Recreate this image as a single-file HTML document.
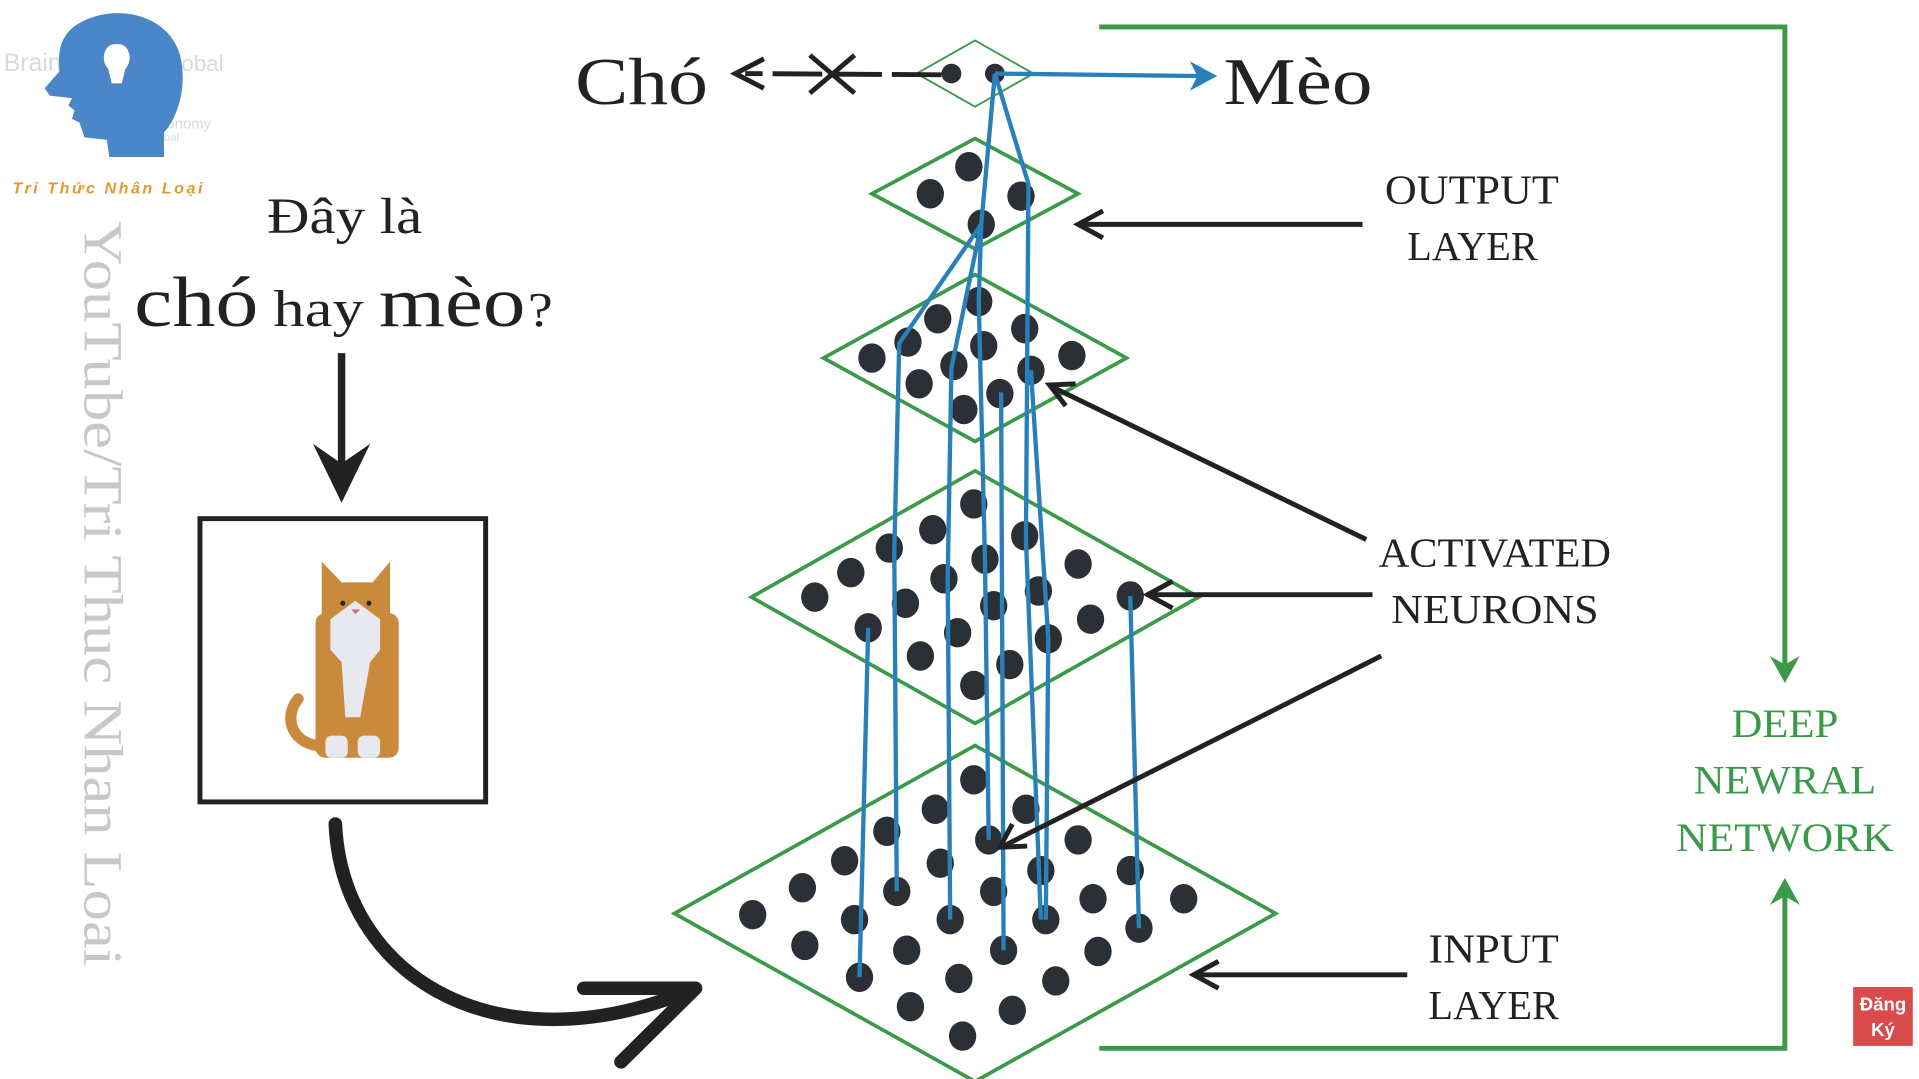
<!DOCTYPE html>
<html><head><meta charset="utf-8"><style>
html,body{margin:0;padding:0;background:#fff;overflow:hidden}
svg{display:block}
.serif{font-family:"Liberation Serif","DejaVu Serif",serif}
</style></head><body>
<svg width="1919" height="1079" viewBox="0 0 1545 880" preserveAspectRatio="none">
<rect width="1545" height="880" fill="#fff"/>
<g>
 <g fill="#d6dbe3" font-family="Liberation Sans,sans-serif">
  <text x="3" y="58" font-size="20">Brain</text>
  <text x="128" y="58" font-size="18">Global</text>
  <text x="120" y="105" font-size="12">Economy</text>
  <text x="118" y="115" font-size="9">Global</text>
 </g>
 <path d="M62 20 C90 2 135 10 145 45 C152 75 140 100 132 108 L132 128 L88 128 L86 114 L68 112 L64 100 L58 97 L60 90 L55 86 L58 80 L40 78 L36 72 L48 58 C46 40 50 28 62 20Z" fill="#4a86c8"/>
 <path d="M93 36 C83 36 81 50 87 56 L90 68 L98 68 L101 56 C107 50 105 36 95 36Z" fill="#fff"/>
 <text x="10" y="158" font-family="Liberation Sans,sans-serif" font-size="13" font-style="italic" font-weight="bold" fill="#e59a2b" textLength="153">Tri Thức Nhân Loại</text>
</g>
<text class="serif" x="0" y="0" font-size="44" fill="#c8c8c8" textLength="608" lengthAdjust="spacingAndGlyphs" transform="translate(68,180) rotate(90)">YouTube/Tri Thuc Nhan Loai</text>
<text class="serif" x="215" y="190" font-size="41" fill="#222" textLength="125" lengthAdjust="spacingAndGlyphs">Đây là</text>
<g class="serif" fill="#222">
 <text x="108" y="266" font-size="58" textLength="100" lengthAdjust="spacingAndGlyphs">chó</text>
 <text x="220" y="266" font-size="42" textLength="73" lengthAdjust="spacingAndGlyphs">hay</text>
 <text x="305" y="266" font-size="58" textLength="118" lengthAdjust="spacingAndGlyphs">mèo</text>
 <text x="425" y="266" font-size="40" textLength="20" lengthAdjust="spacingAndGlyphs">?</text>
</g>
<g>
<line x1="275" y1="288" x2="275" y2="395" stroke="#222" stroke-width="6"/>
<path d="M252 362 L275 410 L298 362 L275 378Z" fill="#222"/>
</g>
<rect x="161" y="423" width="230" height="231" fill="#fff" stroke="#222" stroke-width="4"/>
<g>
 <path d="M240 570 C228 585 235 605 255 608" stroke="#c98a3e" stroke-width="9" fill="none" stroke-linecap="round"/>
 <rect x="254" y="500" width="67" height="118" rx="8" fill="#c98a3e"/>
 <path d="M259 505 L259 458 L275 475 L300 475 L314 458 L314 505Z" fill="#c98a3e"/>
 <path d="M266 505 L286 490 L306 505 L306 530 L298 540 L290 585 L278 585 L275 540 L266 530Z" fill="#e8e9ee"/>
 <rect x="262" y="600" width="18" height="18" rx="5" fill="#e8e9ee"/>
 <rect x="288" y="600" width="18" height="18" rx="5" fill="#e8e9ee"/>
 <circle cx="276" cy="492" r="2" fill="#222"/><circle cx="297" cy="492" r="2" fill="#222"/>
 <path d="M283 497 L290 497 L286 501Z" fill="#e0687a"/>
</g>
<path d="M270 672 C275 790 390 870 545 812" stroke="#222" stroke-width="11" fill="none" stroke-linecap="round"/>
<path d="M470 806 L560 806 L500 866" stroke="#222" stroke-width="11" fill="none" stroke-linecap="round" stroke-linejoin="round"/>
<g id="layers"></g>
<text class="serif" x="463" y="85" font-size="54" fill="#222" textLength="107" lengthAdjust="spacingAndGlyphs">Chó</text>
<text class="serif" x="985" y="85" font-size="54" fill="#222" textLength="120" lengthAdjust="spacingAndGlyphs">Mèo</text>
<g stroke="#222" stroke-width="4" fill="none">
 <line x1="758" y1="61" x2="600" y2="60" stroke-dasharray="40 8"/>
 <path d="M615 48 L592 60 L615 72"/>
 <line x1="652" y1="45" x2="688" y2="76"/><line x1="652" y1="76" x2="688" y2="45"/>
</g>
<g class="serif" font-size="34" fill="#222" lengthAdjust="spacingAndGlyphs">
 <text x="1115" y="166" textLength="140" lengthAdjust="spacingAndGlyphs">OUTPUT</text><text x="1133" y="212" textLength="105" lengthAdjust="spacingAndGlyphs">LAYER</text>
 <text x="1110" y="462" textLength="187" lengthAdjust="spacingAndGlyphs">ACTIVATED</text><text x="1120" y="508" textLength="167" lengthAdjust="spacingAndGlyphs">NEURONS</text>
 <text x="1150" y="785" textLength="105" lengthAdjust="spacingAndGlyphs">INPUT</text><text x="1150" y="831" textLength="105" lengthAdjust="spacingAndGlyphs">LAYER</text>
</g>
<g stroke="#222" stroke-width="4" fill="none">
 <line x1="1097" y1="183" x2="872" y2="183"/><path d="M888 172 L868 183 L888 194"/>
 <line x1="1100" y1="440" x2="848" y2="316"/><path d="M866 313 L845 314 L858 331"/>
 <line x1="1105" y1="485" x2="928" y2="485"/><path d="M944 474 L924 485 L944 496"/>
 <line x1="1112" y1="535" x2="808" y2="690"/><path d="M815 672 L805 691 L827 690"/>
 <line x1="1133" y1="795" x2="965" y2="795"/><path d="M981 784 L961 795 L981 806"/>
</g>
<g stroke="#3a9a48" stroke-width="4" fill="none">
 <polyline points="885,22 1437,22 1437,545"/>
 <polyline points="885,855 1437,855 1437,728"/>
</g>
<path d="M1425 535 L1437 557 L1449 535 L1437 542Z" fill="#3a9a48"/>
<path d="M1425 738 L1437 716 L1449 738 L1437 731Z" fill="#3a9a48"/>
<g class="serif" font-size="33" fill="#3a9a48" text-anchor="middle">
 <text x="1437" y="601" textLength="86" lengthAdjust="spacingAndGlyphs">DEEP</text><text x="1437" y="647" textLength="147" lengthAdjust="spacingAndGlyphs">NEWRAL</text><text x="1437" y="694" textLength="175" lengthAdjust="spacingAndGlyphs">NETWORK</text>
</g>
<g>
 <rect x="1492" y="805" width="48" height="48" fill="#d94a4a"/>
 <text x="1516" y="824" font-family="Liberation Sans,sans-serif" font-weight="bold" font-size="15" fill="#fff" text-anchor="middle">Đăng</text>
 <text x="1516" y="845" font-family="Liberation Sans,sans-serif" font-weight="bold" font-size="15" fill="#fff" text-anchor="middle">Ký</text>
</g>
</svg>
<script>
const NS="http://www.w3.org/2000/svg";
const layerNames=["output-choice","output-layer","hidden-layer-2","hidden-layer-1","input-layer"];
const layerCenters=[[785,60],[785,158],[785,292],[785,487],[785,745]];
const layerHalfSizes=[[47,27],[83,45],[122,68],[180,103],[242,137]];
const neurons=[
 [[766,60],[801,60]],
 [[780,136],[749,158],[822,160],[790,183]],
 [[788,246],[755,260],[825,268],[731,279],[792,282],[702,292],[768,298],[863,290],[830,302],[740,313],[805,321],[776,334]],
 [[784,411],[751,432],[825,437],[716,447],[793,456],[685,467],[868,460],[760,472],[656,487],[729,492],[836,482],[910,486],[800,494],[878,505],[699,512],[771,516],[844,521],[741,535],[813,542],[784,559]],
 [[784,636],[753,660],[826,660],[714,678],[796,685],[868,685],[680,702],[757,704],[838,710],[910,710],[646,724],[722,727],[800,727],[880,733],[953,733],[606,746],[688,750],[765,750],[842,750],[917,757],[648,771],[730,775],[808,775],[884,776],[692,797],[772,798],[850,800],[733,821],[815,824],[775,845]]
];
const activationPaths=[
 [[790,183],[724,280],[720,450],[722,727]],
 [[790,183],[766,300],[763,470],[765,750]],
 [[790,183],[788,246],[793,456],[796,685]],
 [[801,60],[790,183]],
 [[801,60],[828,150],[826,440],[838,750]],
 [[806,320],[808,775]],
 [[699,512],[692,797]],
 [[830,302],[844,521],[842,750]],
 [[910,486],[917,757]],
 [[801,60],[965,62]]
];
const g=document.getElementById('layers');
layerCenters.forEach((c,i)=>{
 const [hw,hh]=layerHalfSizes[i];
 const p=document.createElementNS(NS,'polygon');
 p.setAttribute('points',`${c[0]-hw},${c[1]} ${c[0]},${c[1]-hh} ${c[0]+hw},${c[1]} ${c[0]},${c[1]+hh}`);
 p.setAttribute('fill','none');p.setAttribute('stroke','#3a9a48');p.setAttribute('stroke-width',i==0?1.5:3);
 
 
 g.appendChild(p);
 neurons[i].forEach(n=>{
  const e=document.createElementNS(NS,'ellipse');
  e.setAttribute('cx',n[0]);e.setAttribute('cy',n[1]);e.setAttribute('rx',i==0?8:11);e.setAttribute('ry',i==0?8:12);
  e.setAttribute('fill','#2b2f36');
  
  
  g.appendChild(e);
 });
});
activationPaths.forEach(pts=>{
 const l=document.createElementNS(NS,'polyline');
 l.setAttribute('points',pts.map(p=>p.join(',')).join(' '));
 l.setAttribute('fill','none');l.setAttribute('stroke','#2a80b9');l.setAttribute('stroke-width',3.5);l.setAttribute('stroke-linejoin','round');
 
 
 g.appendChild(l);
});
const ah=document.createElementNS(NS,'path');
ah.setAttribute('d','M958 50 L980 62 L958 74 L964 62Z');ah.setAttribute('fill','#2a80b9');


g.appendChild(ah);
</script>
</body></html>
